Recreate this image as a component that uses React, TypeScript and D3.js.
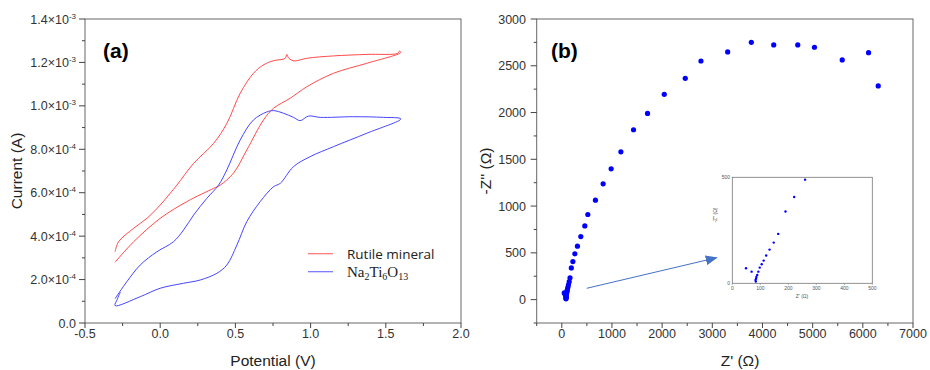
import React from 'react';
import * as d3 from 'd3';

// CV loops, [potential V, current A]
const rutileCV: [number, number][] = [
  [-0.3, 3.28e-4], [-0.277, 3.74e-4], [-0.177, 4.36e-4], [-0.088, 4.82e-4], [0.0, 5.43e-4],
  [0.066, 5.97e-4], [0.111, 6.35e-4], [0.222, 7.35e-4], [0.355, 8.27e-4], [0.443, 9.19e-4],
  [0.532, 1.058e-3], [0.62, 1.15e-3], [0.69, 1.19e-3], [0.754, 1.208e-3], [0.831, 1.219e-3],
  [0.842, 1.237e-3], [0.852, 1.222e-3], [0.875, 1.21e-3], [0.898, 1.207e-3], [0.975, 1.219e-3],
  [1.152, 1.23e-3], [1.374, 1.237e-3], [1.58, 1.242e-3], [1.59, 1.252e-3], [1.6, 1.246e-3],
  [1.374, 1.196e-3], [1.152, 1.15e-3], [0.975, 1.088e-3], [0.864, 1.035e-3], [0.754, 9.89e-4],
  [0.687, 9.35e-4], [0.576, 7.97e-4], [0.487, 6.9e-4], [0.399, 6.35e-4], [0.355, 6.2e-4],
  [0.177, 5.59e-4], [0.0, 4.82e-4], [-0.177, 3.74e-4], [-0.3, 2.8e-4],
];

const na2CV: [number, number][] = [
  [-0.3, 1.12e-4], [-0.222, 1.9e-4], [-0.133, 2.67e-4], [-0.022, 3.28e-4], [0.088, 3.74e-4],
  [0.155, 4.28e-4], [0.222, 4.97e-4], [0.31, 5.74e-4], [0.388, 6.35e-4], [0.443, 7.05e-4],
  [0.532, 8.43e-4], [0.62, 9.35e-4], [0.709, 9.72e-4], [0.754, 9.78e-4], [0.82, 9.66e-4],
  [0.886, 9.47e-4], [0.931, 9.32e-4], [0.986, 9.53e-4], [1.064, 9.47e-4], [1.285, 9.5e-4],
  [1.485, 9.47e-4], [1.6, 9.4e-4],
  [1.374, 8.74e-4], [1.152, 8.12e-4], [0.997, 7.66e-4], [0.886, 7.2e-4], [0.798, 6.43e-4],
  [0.754, 6.28e-4], [0.665, 5.59e-4], [0.576, 4.67e-4], [0.51, 3.59e-4], [0.443, 2.67e-4],
  [0.377, 2.29e-4], [0.266, 1.98e-4], [0.155, 1.83e-4], [0.0, 1.6e-4], [-0.133, 1.21e-4],
  [-0.3, 8.0e-5], [-0.285, 1.1e-4], [-0.265, 1.42e-4],
];

// Nyquist points, [Z' ohm, -Z'' ohm]
const nyquist: [number, number][] = [
  [49, 71], [69, 55], [83, 16], [84, 8], [85, 22], [86, 30], [89, 39], [93, 55], [98, 74],
  [105, 90], [112, 107], [121, 131], [133, 159], [148, 192], [164, 233], [190, 339], [221, 407],
  [260, 489], [312, 571], [379, 674], [459, 788], [519, 910], [671, 1063], [824, 1238],
  [984, 1398], [1178, 1580], [1430, 1816], [1709, 1991], [2042, 2195], [2461, 2366],
  [2774, 2551], [3306, 2648], [3778, 2751], [4224, 2723], [4703, 2723], [5036, 2698],
  [5589, 2562], [6114, 2640], [6307, 2284],
];

const cvXTicks = [-0.5, 0.0, 0.5, 1.0, 1.5, 2.0];
const cvYTicks = [0, 2e-4, 4e-4, 6e-4, 8e-4, 1.0e-3, 1.2e-3, 1.4e-3];
const eisXTicks = [0, 1000, 2000, 3000, 4000, 5000, 6000, 7000];
const eisYTicks = [0, 500, 1000, 1500, 2000, 2500, 3000];
const insetTicks = [0, 100, 200, 300, 400, 500];

const axisColor = '#444';
const tickFont = 'Liberation Sans, Arial, sans-serif';
const tickSize = 12.5;
const titleSize = 15.5;

function sciLabel(v: number) {
  if (v === 0) return { m: '0.0', e: '' };
  const e = Math.floor(Math.log10(v) + 1e-9);
  return { m: (v / Math.pow(10, e)).toFixed(1) + '×10', e: String(e) };
}

export default function App() {
  // panel (a)
  const ax = d3.scaleLinear().domain([-0.5, 2.0]).range([85, 461]);
  const ay = d3.scaleLinear().domain([0, 1.4e-3]).range([323, 19]);
  const cvLine = d3.line<[number, number]>()
    .x(d => ax(d[0]))
    .y(d => ay(d[1]))
    .curve(d3.curveCatmullRom.alpha(0.5));

  // panel (b)
  const bx = d3.scaleLinear().domain([-500, 7000]).range([536.7, 913]);
  const by = d3.scaleLinear().domain([-250, 3000]).range([323, 19]);

  // inset
  const ix = d3.scaleLinear().domain([0, 500]).range([732.3, 872.3]);
  const iy = d3.scaleLinear().domain([0, 500]).range([283.3, 177.3]);
  const insetPts = nyquist.filter(d => d[0] <= 500 && d[1] <= 500);

  const cvMinorX = d3.range(-0.25, 2.0, 0.5);
  const cvMinorY = d3.range(1e-4, 1.4e-3, 2e-4);
  const eisMinorX = d3.range(-500, 7000, 1000);
  const eisMinorY = d3.range(-250, 3000, 500);

  return (
    <svg width={930} height={370} style={{ position: 'absolute', left: 0, top: 0, background: '#fff' }}>
      <defs>
        <marker id="arrow" markerWidth="12" markerHeight="10" refX="11" refY="5" orient="auto" markerUnits="userSpaceOnUse">
          <path d="M0,0 L12,5 L0,10 Z" fill="#4472c4" />
        </marker>
      </defs>

      {/* ---------- (a) ---------- */}
      <rect x={85} y={19} width={376} height={304} fill="none" stroke="#666" strokeWidth={1} />
      {cvXTicks.map(t => (
        <g key={'ax' + t}>
          <line x1={ax(t)} x2={ax(t)} y1={323} y2={328} stroke={axisColor} />
          <text x={ax(t)} y={337.5} textAnchor="middle" fontFamily={tickFont} fontSize={tickSize} fill="#333">
            {t.toFixed(1)}
          </text>
        </g>
      ))}
      {cvMinorX.map(t => (
        <line key={'amx' + t} x1={ax(t)} x2={ax(t)} y1={323} y2={326} stroke={axisColor} />
      ))}
      {cvYTicks.map(t => {
        const l = sciLabel(t);
        return (
          <g key={'ay' + t}>
            <line x1={79} x2={85} y1={ay(t)} y2={ay(t)} stroke={axisColor} />
            <text x={76} y={ay(t) + 4.5} textAnchor="end" fontFamily={tickFont} fontSize={tickSize} fill="#333">
              {l.m}
              {l.e && <tspan fontSize={8} dy={-5}>{l.e}</tspan>}
            </text>
          </g>
        );
      })}
      {cvMinorY.map(t => (
        <line key={'amy' + t} x1={82} x2={85} y1={ay(t)} y2={ay(t)} stroke={axisColor} />
      ))}
      <path d={cvLine(rutileCV) || ''} fill="none" stroke="#ff4a4a" strokeWidth={1} />
      <path d={cvLine(na2CV) || ''} fill="none" stroke="#4646ff" strokeWidth={1} />
      <text x={103} y={58} fontFamily="Liberation Sans, Arial, sans-serif" fontWeight="bold" fontSize={21}>(a)</text>
      <text x={273} y={366} textAnchor="middle" fontFamily={tickFont} fontSize={titleSize} fill="#222">Potential (V)</text>
      <text transform="translate(22,171) rotate(-90)" textAnchor="middle" fontFamily={tickFont} fontSize={titleSize} fill="#222">Current (A)</text>

      {/* legend */}
      <line x1={308} x2={333} y1={253.7} y2={253.7} stroke="#ff7070" strokeWidth={1.2} />
      <line x1={308} x2={333} y1={271.7} y2={271.7} stroke="#7070ff" strokeWidth={1.2} />
      <text x={347} y={258.5} fontFamily="Open Sans, sans-serif" fontSize={13.5} fill="#222">Rutile mineral</text>
      <text x={347} y={277} fontFamily="Liberation Serif, serif" fontSize={15} fill="#222">
        Na<tspan fontSize={10} dy={3}>2</tspan><tspan dy={-3}>Ti</tspan><tspan fontSize={10} dy={3}>6</tspan>
        <tspan dy={-3}>O</tspan><tspan fontSize={10} dy={3}>13</tspan>
      </text>

      {/* ---------- (b) ---------- */}
      <rect x={536.7} y={19} width={376.3} height={304} fill="none" stroke="#666" strokeWidth={1} />
      {eisXTicks.map(t => (
        <g key={'bx' + t}>
          <line x1={bx(t)} x2={bx(t)} y1={323} y2={328} stroke={axisColor} />
          <text x={bx(t)} y={337.5} textAnchor="middle" fontFamily={tickFont} fontSize={tickSize} fill="#333">{t}</text>
        </g>
      ))}
      {eisMinorX.map(t => (
        <line key={'bmx' + t} x1={bx(t)} x2={bx(t)} y1={323} y2={326} stroke={axisColor} />
      ))}
      {eisYTicks.map(t => (
        <g key={'by' + t}>
          <line x1={530.7} x2={536.7} y1={by(t)} y2={by(t)} stroke={axisColor} />
          <text x={526} y={by(t) + 4.5} textAnchor="end" fontFamily={tickFont} fontSize={tickSize} fill="#333">{t}</text>
        </g>
      ))}
      {eisMinorY.map(t => (
        <line key={'bmy' + t} x1={533.7} x2={536.7} y1={by(t)} y2={by(t)} stroke={axisColor} />
      ))}
      {nyquist.map((d, i) => (
        <circle key={'n' + i} cx={bx(d[0])} cy={by(d[1])} r={2.6} fill="#0000ff" />
      ))}
      <text x={551} y={58} fontFamily="Liberation Sans, Arial, sans-serif" fontWeight="bold" fontSize={21}>(b)</text>
      <text x={740} y={366} textAnchor="middle" fontFamily={tickFont} fontSize={titleSize} fill="#222">Z' (Ω)</text>
      <text transform="translate(491,171) rotate(-90)" textAnchor="middle" fontFamily={tickFont} fontSize={titleSize} fill="#222">-Z'' (Ω)</text>

      {/* arrow to inset */}
      <line x1={586.7} y1={288.3} x2={716.7} y2={257.7} stroke="#4472c4" strokeWidth={1} markerEnd="url(#arrow)" />

      {/* inset */}
      <rect x={732.3} y={177.3} width={140} height={106} fill="#fff" stroke="#777" strokeWidth={0.8} />
      {insetTicks.map(t => (
        <g key={'ix' + t}>
          <line x1={ix(t)} x2={ix(t)} y1={283.3} y2={285} stroke="#777" strokeWidth={0.5} />
          <text x={ix(t)} y={290} textAnchor="middle" fontFamily={tickFont} fontSize={5} fill="#555">{t}</text>
        </g>
      ))}
      {[0, 500].map(t => (
        <text key={'iy' + t} x={730} y={iy(t) + 1.5} textAnchor="end" fontFamily={tickFont} fontSize={5} fill="#555">{t}</text>
      ))}
      <text x={802} y={298} textAnchor="middle" fontFamily={tickFont} fontSize={5} fill="#555">Z' (Ω)</text>
      <text transform="translate(717,215) rotate(-90)" textAnchor="middle" fontFamily={tickFont} fontSize={5} fill="#555">-Z'' (Ω)</text>
      {insetPts.map((d, i) => (
        <circle key={'in' + i} cx={ix(d[0])} cy={iy(d[1])} r={1.2} fill="#0000ff" />
      ))}
    </svg>
  );
}
